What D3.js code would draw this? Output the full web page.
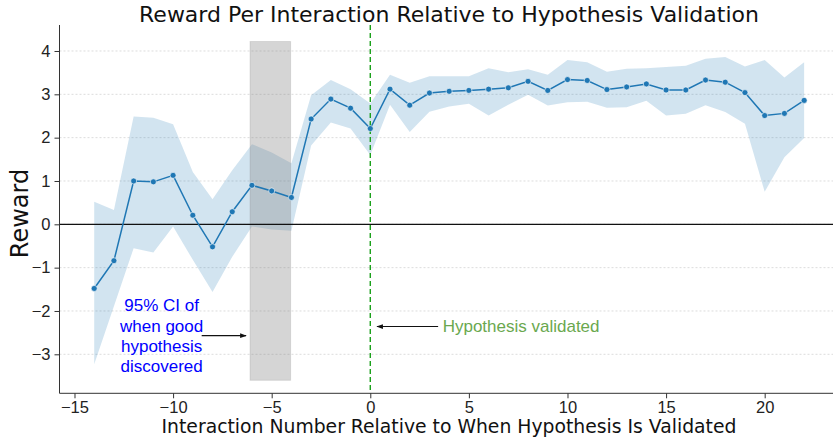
<!DOCTYPE html>
<meta charset='utf-8'>
<style>
  body { margin: 0; background: #fff; }
  svg { font-family: 'DejaVu Sans', sans-serif; }
  .grid line { stroke: #dcdcdc; stroke-dasharray: 2,2; }
  .axis path, .axis line { stroke: #333; }
  .axis text { fill: #222; font-size: 16.5px; }
  .note { font-family: 'Liberation Sans', Arial, sans-serif; font-size: 17px; }
</style>
<body>
<div id='viz'></div>
<script src='https://d3js.org/d3.v7.min.js'></script>
<script>

// Interaction index relative to validation, and mean reward with 95% CI
var interactions = [-14, -13, -12, -11, -10, -9, -8, -7, -6, -5, -4, -3, -2, -1, 0,
                    1, 2, 3, 4, 5, 6, 7, 8, 9, 10, 11, 12, 13, 14, 15, 16, 17, 18, 19, 20, 21, 22];
var rewards = [-1.48, -0.84, 1.00, 0.98, 1.13, 0.21, -0.52, 0.29, 0.90, 0.77, 0.62, 2.43, 2.89, 2.68, 2.21,
               3.12, 2.75, 3.03, 3.07, 3.09, 3.12, 3.15, 3.30, 3.09, 3.34, 3.32, 3.11, 3.17, 3.24, 3.10,
               3.10, 3.33, 3.28, 3.04, 2.51, 2.56, 2.86];
var ciUpper = [0.52, 0.33, 2.49, 2.46, 2.31, 1.21, 0.58, 1.25, 1.85, 1.66, 1.41, 2.98, 3.33, 3.12, 2.79,
               3.45, 3.27, 3.42, 3.42, 3.42, 3.60, 3.51, 3.58, 3.45, 3.79, 3.74, 3.52, 3.59, 3.60, 3.63,
               3.66, 3.82, 3.86, 3.64, 3.79, 3.39, 3.74];
var ciLower = [-3.23, -1.89, -0.55, -0.65, -0.05, -0.82, -1.56, -0.75, -0.05, -0.12, -0.15, 1.82, 2.35, 2.21, 1.60,
               2.76, 2.13, 2.60, 2.72, 2.78, 2.51, 2.76, 2.99, 2.74, 2.82, 2.83, 2.69, 2.70, 2.85, 2.51,
               2.55, 2.75, 2.59, 2.32, 0.75, 1.55, 1.99];

// 95% CI of when the good hypothesis was discovered (x span, y span of the shaded box)
var discoveryX = [-6.1, -4.04];
var discoveryY = [-3.6, 4.22];

var xTicks = [-15, -10, -5, 0, 5, 10, 15, 20];
var yTicks = [-3, -2, -1, 0, 1, 2, 3, 4];

var data = interactions.map(function(x, i) {
  return {x: x, y: rewards[i], lo: ciLower[i], hi: ciUpper[i]};
});

var width = 833, height = 440;
var plotLeft = 59.5, plotBottom = 393.3, plotTop = 25;

var xScale = d3.scaleLinear().domain([-15.76, 23.8]).range([plotLeft, plotLeft + 39.56 * 19.72]);
var yScale = d3.scaleLinear().domain([-3.9, 4.6]).range([plotBottom, plotTop]);

var svg = d3.select('#viz').append('svg')
    .attr('width', width)
    .attr('height', height);

// horizontal dotted grid
svg.append('g')
    .attr('class', 'grid')
    .selectAll('line')
    .data(yTicks)
    .enter().append('line')
    .attr('x1', plotLeft)
    .attr('x2', width)
    .attr('y1', function(d) { return yScale(d); })
    .attr('y2', function(d) { return yScale(d); });

// confidence band
svg.append('path')
    .datum(data)
    .attr('fill', '#1f77b4')
    .attr('fill-opacity', 0.2)
    .attr('d', d3.area()
      .x(function(d) { return xScale(d.x); })
      .y0(function(d) { return yScale(d.lo); })
      .y1(function(d) { return yScale(d.hi); }));

// discovery CI box
svg.append('rect')
    .attr('x', xScale(discoveryX[0]))
    .attr('y', yScale(discoveryY[1]))
    .attr('width', xScale(discoveryX[1]) - xScale(discoveryX[0]))
    .attr('height', yScale(discoveryY[0]) - yScale(discoveryY[1]))
    .attr('fill', 'rgb(128,128,128)')
    .attr('fill-opacity', 0.33)
    .attr('stroke', 'rgb(128,128,128)')
    .attr('stroke-opacity', 0.2);

// zero line
svg.append('line')
    .attr('x1', plotLeft).attr('x2', width)
    .attr('y1', yScale(0)).attr('y2', yScale(0))
    .attr('stroke', '#111')
    .attr('stroke-width', 1.3);

// validation line
svg.append('line')
    .attr('x1', xScale(0)).attr('x2', xScale(0))
    .attr('y1', plotTop).attr('y2', plotBottom)
    .attr('stroke', '#1aa01a')
    .attr('stroke-width', 1.4)
    .attr('stroke-dasharray', '5,3');

// mean line + markers
svg.append('path')
    .datum(data)
    .attr('fill', 'none')
    .attr('stroke', '#1f77b4')
    .attr('stroke-width', 1.5)
    .attr('d', d3.line()
      .x(function(d) { return xScale(d.x); })
      .y(function(d) { return yScale(d.y); }));

svg.append('g')
    .selectAll('circle')
    .data(data)
    .enter().append('circle')
    .attr('cx', function(d) { return xScale(d.x); })
    .attr('cy', function(d) { return yScale(d.y); })
    .attr('r', 3)
    .attr('fill', '#1f77b4')
    .attr('stroke', '#fff')
    .attr('stroke-width', 0.6);

// axes
var minus = function(d) { return d < 0 ? '\u2212' + Math.abs(d) : d; };

var xAxis = svg.append('g')
    .attr('class', 'axis')
    .attr('transform', 'translate(0,' + plotBottom + ')')
    .call(d3.axisBottom(xScale).tickValues(xTicks).tickSize(5).tickPadding(3).tickFormat(minus));
xAxis.select('.domain').attr('d', 'M' + plotLeft + ',0H' + width);

var yAxis = svg.append('g')
    .attr('class', 'axis')
    .attr('transform', 'translate(' + plotLeft + ',0)')
    .call(d3.axisLeft(yScale).tickValues(yTicks).tickSize(5).tickPadding(4).tickFormat(minus));
yAxis.select('.domain').attr('d', 'M0,' + plotTop + 'V' + plotBottom);

// titles
svg.append('text')
    .attr('x', 449).attr('y', 22)
    .attr('text-anchor', 'middle')
    .attr('font-size', 22)
    .attr('fill', '#111')
    .text('Reward Per Interaction Relative to Hypothesis Validation');

svg.append('text')
    .attr('x', 449).attr('y', 433)
    .attr('text-anchor', 'middle')
    .attr('font-size', 18.8)
    .attr('fill', '#111')
    .text('Interaction Number Relative to When Hypothesis Is Validated');

svg.append('text')
    .attr('transform', 'translate(28,' + yScale(0.25) + ') rotate(-90)')
    .attr('text-anchor', 'middle')
    .attr('font-size', 24)
    .attr('fill', '#111')
    .text('Reward');

// annotations
var defs = svg.append('defs');
defs.append('marker')
    .attr('id', 'head')
    .attr('viewBox', '0 0 10 10')
    .attr('refX', 9).attr('refY', 5)
    .attr('markerWidth', 6).attr('markerHeight', 6)
    .attr('orient', 'auto')
    .append('path')
    .attr('d', 'M0,1.5L10,5L0,8.5Z')
    .attr('fill', '#111');

svg.append('line')
    .attr('x1', xScale(-8.55)).attr('x2', xScale(-6.3))
    .attr('y1', yScale(-2.57)).attr('y2', yScale(-2.57))
    .attr('stroke', '#111').attr('stroke-width', 1.1)
    .attr('marker-end', 'url(#head)');

var ciNote = ['95% CI of', 'when good', 'hypothesis', 'discovered'];
svg.append('text')
    .attr('class', 'note')
    .attr('fill', '#0000ff')
    .attr('text-anchor', 'middle')
    .selectAll('tspan')
    .data(ciNote)
    .enter().append('tspan')
    .attr('x', xScale(-10.58))
    .attr('y', function(d, i) { return yScale(-2.57) + (i - 1.5) * 20.3 + 6; })
    .text(function(d) { return d; });

svg.append('line')
    .attr('x1', xScale(3.44)).attr('x2', xScale(0.34))
    .attr('y1', yScale(-2.36)).attr('y2', yScale(-2.36))
    .attr('stroke', '#111').attr('stroke-width', 1.1)
    .attr('marker-end', 'url(#head)');

svg.append('text')
    .attr('class', 'note')
    .attr('fill', '#6aa84f')
    .attr('x', xScale(3.67))
    .attr('y', yScale(-2.36) + 5)
    .text('Hypothesis validated');

</script>
</body>
